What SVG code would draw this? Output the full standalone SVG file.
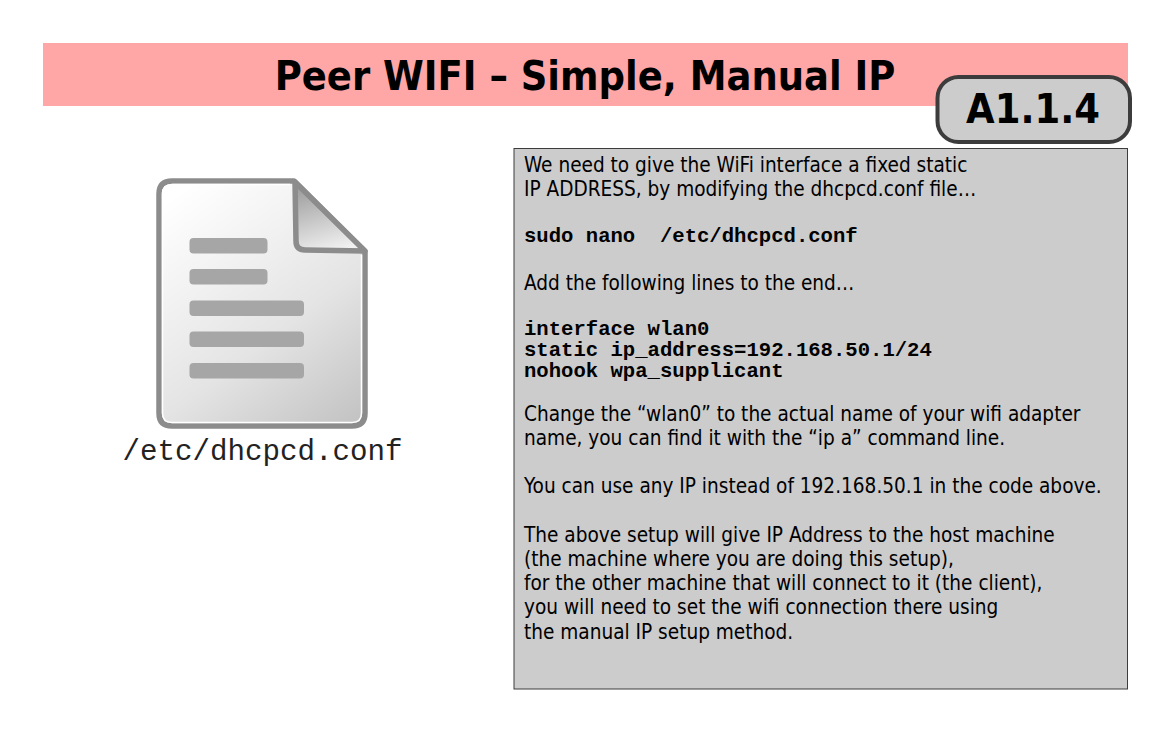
<svg xmlns="http://www.w3.org/2000/svg" width="1169" height="730" viewBox="0 0 1169 730">
<style>
.b{font-family:"DejaVu Sans Condensed","DejaVu Sans",sans-serif;font-stretch:condensed;font-size:20.6px;fill:#000}
.h{font-family:"DejaVu Sans Condensed","DejaVu Sans",sans-serif;font-stretch:condensed;font-weight:700;font-size:41.100px;fill:#000;text-anchor:middle}
.m{font-family:"Liberation Mono",monospace;font-size:20.6px;font-weight:700;fill:#000}
.l{fill:#a6a6a6}
</style>
<defs>
<linearGradient id="pg" gradientUnits="userSpaceOnUse" x1="175" y1="195" x2="345" y2="425"><stop offset="0" stop-color="#fff"/><stop offset="0.6" stop-color="#e4e4e4"/><stop offset="1" stop-color="#c4c4c4"/></linearGradient>
<linearGradient id="fg" x1="0.3" y1="0" x2="0.6" y2="1"><stop offset="0" stop-color="#9c9c9c"/><stop offset="1" stop-color="#f2f2f2"/></linearGradient>
</defs>
<rect width="1169" height="730" fill="#fff"/>
<g id="title"><rect x="43" y="43" width="1085" height="63" fill="#ffa6a6"/>
<text class="h" x="585" y="90">Peer WIFI – Simple, Manual IP</text></g>
<g id="badge"><rect x="937.500" y="77" width="192.500" height="65" rx="21" fill="#ccc" stroke="#3c3c3c" stroke-width="4"/>
<text class="h" x="1033" y="123">A1.1.4</text></g>
<g id="file-icon">
<path d="M172 181H294L365 252V413Q365 426 352 426H172Q159 426 159 413V194Q159 181 172 181Z" fill="url(#pg)" stroke="#8c8c8c" stroke-width="5.500" stroke-linejoin="round"/>
<path d="M361.500 255V413Q361.500 422.500 352 422.500H172Q162.500 422.500 162.500 413V194Q162.500 184.500 173 184.500H290" fill="none" stroke="#fff" stroke-width="1.500"/>
<path d="M295 182L365 251L305 250Q296 250 296 241Z" fill="url(#fg)" stroke="#8c8c8c" stroke-width="5.500" stroke-linejoin="round"/>
<rect class="l" x="189.500" y="238" width="78" height="15.500" rx="4"/>
<rect class="l" x="189.500" y="269" width="78" height="15.500" rx="4"/>
<rect class="l" x="189.500" y="300.500" width="114.500" height="15.500" rx="4"/>
<rect class="l" x="189.500" y="331.500" width="114.500" height="15.500" rx="4"/>
<rect class="l" x="189.500" y="363" width="114.500" height="15.500" rx="4"/>
<text x="262.500" y="460" text-anchor="middle" font-family="Liberation Mono" font-size="29.200" font-weight="300" fill="#222">/etc/dhcpcd.conf</text>
</g>
<g id="panel">
<rect x="514" y="148.500" width="613.500" height="540.500" fill="#ccc" stroke="#3c3c3c" stroke-width="1"/>
<text class="b" x="524" y="172">We need to give the WiFi interface a fixed static</text>
<text class="b" x="524" y="196">IP ADDRESS, by modifying the dhcpcd.conf file…</text>
<text class="m" x="524" y="242" xml:space="preserve">sudo nano  /etc/dhcpcd.conf</text>
<text class="b" x="524" y="290">Add the following lines to the end…</text>
<text class="m" x="524" y="335">interface wlan0</text>
<text class="m" x="524" y="356">static ip_address=192.168.50.1/24</text>
<text class="m" x="524" y="377">nohook wpa_supplicant</text>
<text class="b" x="524" y="421">Change the “wlan0” to the actual name of your wifi adapter</text>
<text class="b" x="524" y="445">name, you can find it with the “ip a” command line.</text>
<text class="b" x="524" y="493">You can use any IP instead of 192.168.50.1 in the code above.</text>
<text class="b" x="524" y="542">The above setup will give IP Address to the host machine</text>
<text class="b" x="524" y="566">(the machine where you are doing this setup),</text>
<text class="b" x="524" y="590">for the other machine that will connect to it (the client),</text>
<text class="b" x="524" y="614">you will need to set the wifi connection there using</text>
<text class="b" x="524" y="639">the manual IP setup method.</text>
</g>
</svg>
